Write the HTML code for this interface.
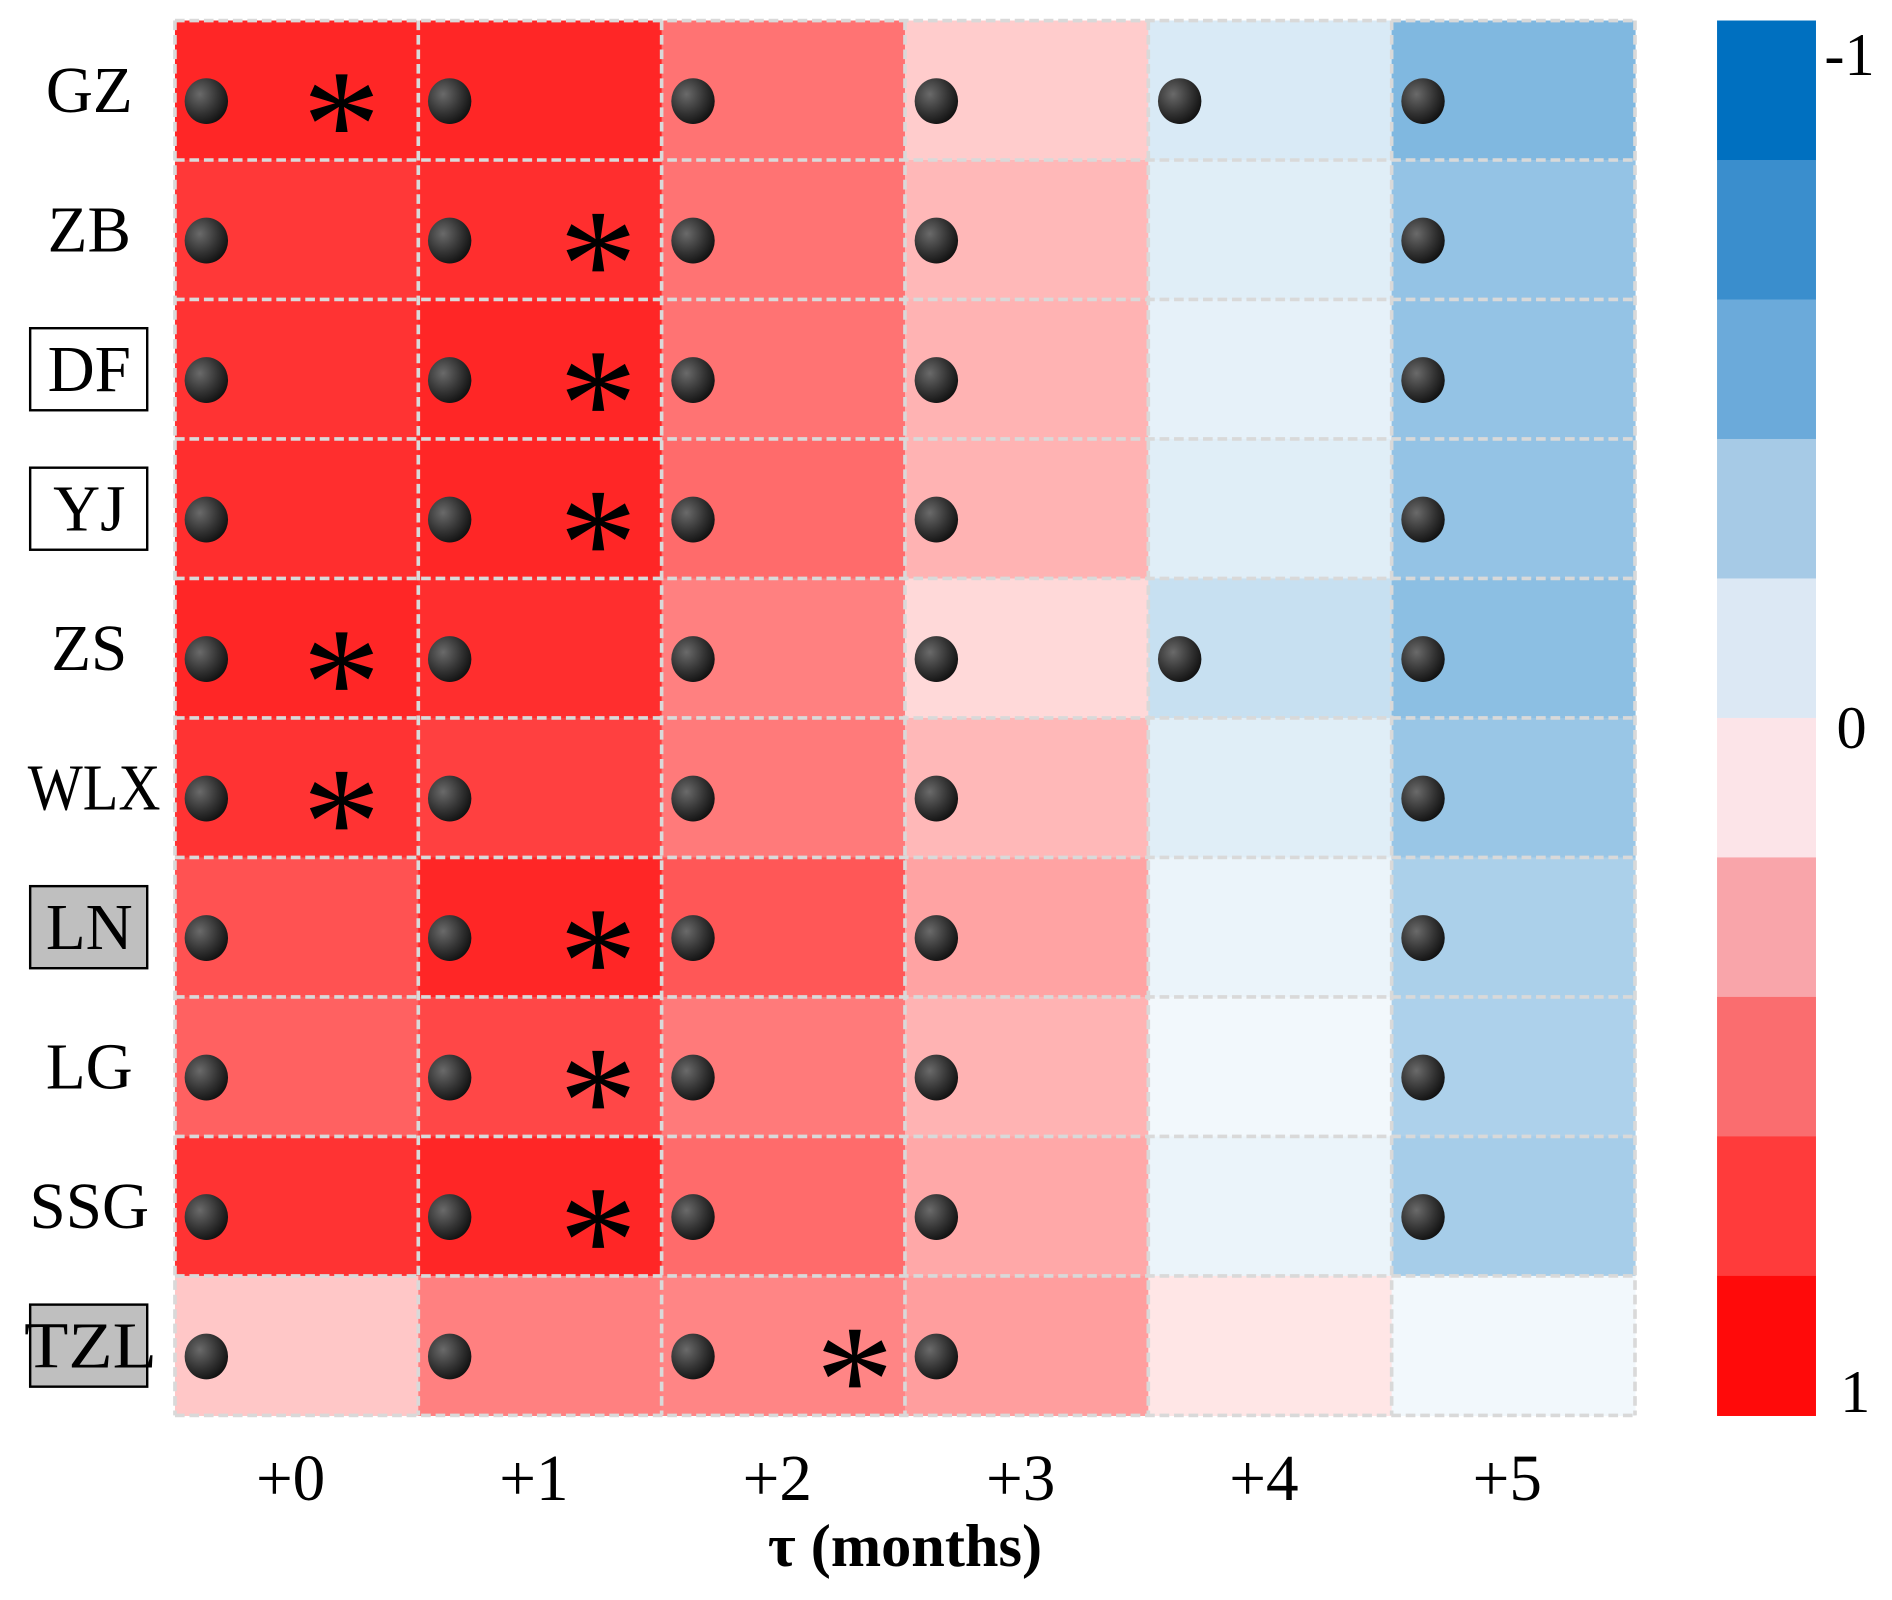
<!DOCTYPE html>
<html><head><meta charset="utf-8"><style>html,body{margin:0;padding:0;background:#fff}svg{display:block}</style></head>
<body>
<svg id="chart" width="1892" height="1600" viewBox="0 0 1568 1326" xmlns="http://www.w3.org/2000/svg" font-family="'Liberation Serif', serif">
<defs>
<radialGradient id="dotg" cx="0.35" cy="0.35" r="0.7">
<stop offset="0" stop-color="#6a6a6a"/><stop offset="0.6" stop-color="#333"/><stop offset="1" stop-color="#111"/>
</radialGradient>
</defs>
<g id="cells"></g><g id="grid"></g><g id="marks"></g><g id="ylabels"></g><g id="xlabels"></g><g id="cbar"></g>
<text x="750" y="1298" text-anchor="middle" font-size="50" font-weight="bold">τ (months)</text>
</svg>
<script>
const rows = ["GZ","ZB","DF","YJ","ZS","WLX","LN","LG","SSG","TZL"];
const cols = ["+0","+1","+2","+3","+4","+5"];
const vGZ  = [0.85,0.85,0.55,0.20,-0.15,-0.50];
const vZB  = [0.78,0.82,0.55,0.28,-0.12,-0.42];
const vDF  = [0.80,0.85,0.55,0.30,-0.10,-0.42];
const vYJ  = [0.82,0.85,0.58,0.30,-0.12,-0.42];
const vZS  = [0.85,0.82,0.50,0.15,-0.22,-0.45];
const vWLX = [0.80,0.75,0.52,0.28,-0.12,-0.40];
const vLN  = [0.68,0.85,0.66,0.36,-0.08,-0.33];
const vLG  = [0.62,0.72,0.52,0.30,-0.05,-0.32];
const vSSG = [0.80,0.85,0.58,0.34,-0.08,-0.35];
const vTZL = [0.22,0.50,0.48,0.38,0.10,-0.05];
const values = [vGZ,vZB,vDF,vYJ,vZS,vWLX,vLN,vLG,vSSG,vTZL];
const dotCols = [[0,1,2,3,4,5],[0,1,2,3,5],[0,1,2,3,5],[0,1,2,3,5],[0,1,2,3,4,5],[0,1,2,3,5],[0,1,2,3,5],[0,1,2,3,5],[0,1,2,3,5],[0,1,2,3]];
const starCol = [0,1,1,1,0,0,1,1,1,2];
const boxType = ["","","white","white","","","gray","","","gray"];
const cbarColors = ["#0070C0","#3A8ECD","#6BAADA","#A6CAE6","#DCE8F4","#FCE4E8","#F9A5AA","#FA6D6F","#FF3B3B","#FF0A0A"];
const cbarTicks = ["-1","0","1"];

const NS="http://www.w3.org/2000/svg";
const X0=145,X1=1355,Y0=17,Y1=1173;
const cw=(X1-X0)/cols.length, rh=(Y1-Y0)/rows.length;
const xs=i=>X0+i*cw, ys=j=>Y0+j*rh;
function color(v){
  if(v>=0){const g=Math.round(255*(1-v));return `rgb(255,${g},${g})`;}
  const t=-v;return `rgb(${Math.round(255*(1-t))},${Math.round(255-(255-112)*t)},${Math.round(255-(255-192)*t)})`;
}
function mk(tag,attrs,parent){const e=document.createElementNS(NS,tag);for(const k in attrs)e.setAttribute(k,attrs[k]);parent.appendChild(e);return e;}
const gC=document.getElementById('cells'),gG=document.getElementById('grid'),gM=document.getElementById('marks'),gY=document.getElementById('ylabels'),gX=document.getElementById('xlabels'),gB=document.getElementById('cbar');
values.forEach((row,j)=>row.forEach((v,i)=>{
  const r=mk('rect',{x:xs(i),y:ys(j),width:cw+0.5,height:rh+0.5,fill:color(v)},gC);
  
  
}));
for(let i=0;i<=cols.length;i++){mk('line',{x1:xs(i),y1:Y0,x2:xs(i),y2:Y1,stroke:'#d9d9d9','stroke-width':3,'stroke-dasharray':'8 4'},gG);}
for(let j=0;j<=rows.length;j++){mk('line',{x1:X0,y1:ys(j),x2:X1,y2:ys(j),stroke:'#d9d9d9','stroke-width':3,'stroke-dasharray':'8 4'},gG);}
dotCols.forEach((cs,j)=>cs.forEach(i=>{
  const d=mk('ellipse',{cx:xs(i)+26,cy:ys(j)+rh/2+9,rx:18,ry:19,fill:'url(#dotg)'},gM);
  
  
}));
starCol.forEach((i,j)=>{
  const s=mk('text',{x:xs(i)+138+11*i,y:ys(j)+rh/2+72,'text-anchor':'middle','font-size':130},gM);
  s.textContent='*';
  
  
});
rows.forEach((name,j)=>{
  const cy=ys(j)+rh/2;
  if(boxType[j]){
    const b=mk('rect',{x:25,y:cy-34,width:97,height:68,fill:boxType[j]==='gray'?'#bfbfbf':'#fff',stroke:'#000','stroke-width':2},gY);
    
    
  }
  const t=mk('text',{x:74,y:cy+18,'text-anchor':'middle','font-size':54},gY);
  if(name==='WLX'||name==='TZL'){t.setAttribute('textLength','110');t.setAttribute('lengthAdjust','spacingAndGlyphs');t.setAttribute('x',name==='WLX'?78:75);}
  t.textContent=name;
  
  
});
cols.forEach((c,i)=>{
  const t=mk('text',{x:xs(i)+cw/2-5,y:1243,'text-anchor':'middle','font-size':54},gX);
  t.textContent=c;
  
  
});
const ch=(Y1-Y0)/cbarColors.length;
cbarColors.forEach((c,k)=>{
  const r=mk('rect',{x:1423,y:Y0+k*ch,width:82,height:ch+0.5,fill:c},gB);
  
  
});
const tickY=[62,620,1170];
const tickX=[1512,1522,1525];
cbarTicks.forEach((l,k)=>{
  const t=mk('text',{x:tickX[k],y:tickY[k],'font-size':50},gB);
  t.textContent=l;
  
  
});
</script>
</body></html>
